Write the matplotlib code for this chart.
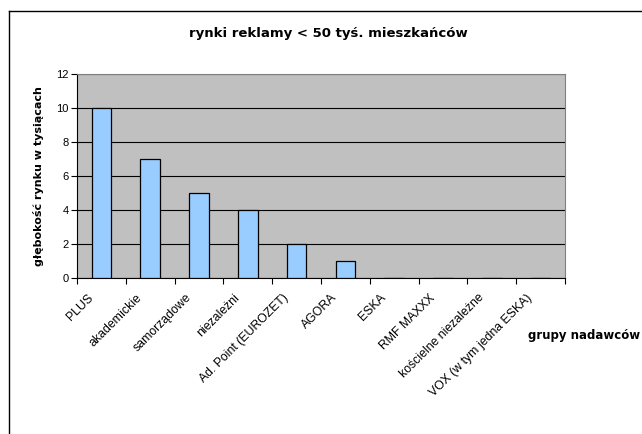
import matplotlib
matplotlib.use("Agg")
import matplotlib.pyplot as plt
from matplotlib.lines import Line2D
from matplotlib.transforms import ScaledTranslation
import numpy as np

categories = ["PLUS", "akademickie", "samorządowe", "niezależni", "Ad. Point (EUROZET)",
              "AGORA", "ESKA", "RMF MAXXX", "kościelne niezależne", "VOX (w tym jedna ESKA)"]
values = [10, 7, 5, 4, 2, 1, 0, 0, 0, 0]
yticks = [0, 2, 4, 6, 8, 10, 12]

plt.rcParams['font.family'] = ['Liberation Sans', 'DejaVu Sans']

fig = plt.figure(figsize=(6.42, 4.34), dpi=100)
ax = fig.add_axes([77/642, 1-278/434, 488/642, 204/434])
ax.set_facecolor('#C0C0C0')

x = np.arange(len(categories))
ax.bar(x, values, width=0.4, color='#99CCFF', edgecolor='black', linewidth=0.9, zorder=3)
ax.set_xlim(-0.5, len(categories) - 0.5)
ax.set_ylim(0, 12)
ax.set_yticks(yticks)
ax.set_yticklabels([str(v) for v in yticks], fontsize=8)
ax.yaxis.grid(True, color='black', linewidth=0.8, zorder=1)
ax.set_axisbelow(True)

ax.set_xticks(x)
ax.set_xticklabels(categories, rotation=45, ha='right', va='center', rotation_mode='anchor', fontsize=8.8)
ax.tick_params(axis='x', which='major', length=0, pad=13)
offset = ScaledTranslation(-10/100, 0, fig.dpi_scale_trans)
for lbl in ax.get_xticklabels():
    lbl.set_transform(lbl.get_transform() + offset)
ax.set_xticks(np.arange(-0.5, len(categories) + 0.5, 1), minor=True)
ax.tick_params(axis='x', which='minor', length=4, direction='out', width=0.8)
ax.tick_params(axis='y', length=4, direction='out', width=0.8, pad=2)

for s in ['top', 'right']:
    ax.spines[s].set_color('#808080')
    ax.spines[s].set_linewidth(0.8)
for s in ['left', 'bottom']:
    ax.spines[s].set_color('black')
    ax.spines[s].set_linewidth(0.8)

ax.set_ylabel("głębokość rynku w tysiącach", fontsize=8, fontweight='bold', labelpad=9,
              family=['DejaVu Sans'])

fig.text(328/642, 1-33/434, "rynki reklamy < 50 tyś. mieszkańców", ha='center', va='center',
         fontsize=9.5, fontweight='bold', family=['DejaVu Sans'])
fig.text(640/642, 1-336/434, "grupy nadawców", ha='right', va='center',
         fontsize=8.5, fontweight='bold', family=['DejaVu Sans'])

fig.add_artist(Line2D([9/642, 9/642], [0, 1-11/434], color='black', linewidth=1, transform=fig.transFigure))
fig.add_artist(Line2D([9/642, 1], [1-11/434, 1-11/434], color='black', linewidth=1, transform=fig.transFigure))

fig.savefig("out.png", dpi=100)
